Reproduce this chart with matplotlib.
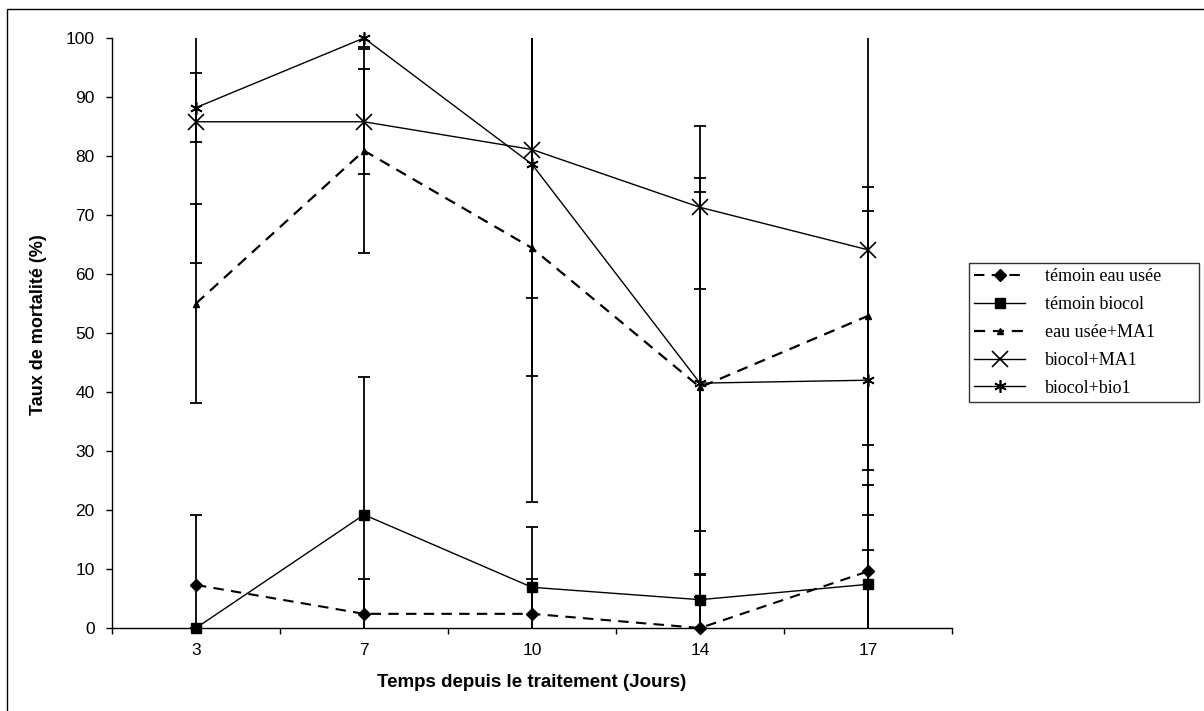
import matplotlib
matplotlib.use("Agg")
import matplotlib.pyplot as plt
from matplotlib.patches import Rectangle

# Données (taux de mortalité en %)
jours = ["3", "7", "10", "14", "17"]

temoin_eau_usee = [7.3, 2.4, 2.4, 0.0, 9.6]
temoin_biocol = [0.0, 19.2, 6.9, 4.8, 7.4]
eau_usee_ma1 = [55.0, 80.9, 64.4, 40.8, 52.9]
biocol_ma1 = [85.8, 85.8, 81.1, 71.3, 64.1]
biocol_bio1 = [88.2, 100.0, 78.6, 41.5, 42.0]

# Écarts-types (barres d'erreur)
err_temoin_eau_usee = [11.9, 5.9, 5.9, 8.9, 14.7]
err_temoin_biocol = [0.0, 23.3, 10.2, 11.6, 11.8]
err_eau_usee_ma1 = [16.9, 17.3, 43.0, 35.5, 21.9]
err_biocol_ma1 = [24.0, 8.9, 25.1, 13.8, 37.3]
err_biocol_bio1 = [5.9, 1.6, 35.9, 32.4, 28.7]

plt.rcParams["font.family"] = ["Liberation Sans", "DejaVu Sans"]

fig = plt.figure(figsize=(12.04, 7.11), dpi=100)
ax = fig.add_axes([112 / 1204, 1 - 628 / 711, 840 / 1204, 590 / 711])

x = list(range(len(jours)))

series = [
    (temoin_eau_usee, err_temoin_eau_usee, "témoin eau usée",
     dict(ls=(0, (5, 3.5)), lw=1.5, marker="D", ms=6.5)),
    (temoin_biocol, err_temoin_biocol, "témoin biocol",
     dict(ls="-", lw=1.0, marker="s", ms=7)),
    (eau_usee_ma1, err_eau_usee_ma1, "eau usée+MA1",
     dict(ls=(0, (5, 3.5)), lw=1.6, marker="^", ms=5)),
    (biocol_ma1, err_biocol_ma1, "biocol+MA1",
     dict(ls="-", lw=1.0, marker="x", ms=12, mew=1.2)),
    (biocol_bio1, err_biocol_bio1, "biocol+bio1",
     dict(ls="-", lw=1.0, marker=(6, 2, 0), ms=9, mew=1.2)),
]

for vals, errs, nom, style in series:
    ax.errorbar(x, vals, yerr=errs, fmt="none", ecolor="black",
                elinewidth=1.3, capsize=4.5, capthick=1.3, zorder=2)
    ax.plot(x, vals, color="black", mfc="black", mec="black",
            label=nom, clip_on=False, zorder=3, **style)

ax.set_ylim(0, 100)
ax.set_xlim(-0.5, len(jours) - 0.5)
ax.set_yticks(range(0, 101, 10))

# graduations aux limites des catégories, étiquettes au centre
ax.set_xticks([i - 0.5 for i in range(len(jours) + 1)])
ax.set_xticklabels([])
ax.set_xticks(x, minor=True)
ax.set_xticklabels(jours, minor=True)
ax.tick_params(axis="x", which="major", direction="out", length=4.5, width=1)
ax.tick_params(axis="x", which="minor", length=0, pad=11, labelsize=12.5)
ax.tick_params(axis="y", direction="out", length=4.5, width=1, pad=8, labelsize=12.5)

for cote in ["top", "right"]:
    ax.spines[cote].set_visible(False)
ax.spines["left"].set_linewidth(1.0)
ax.spines["bottom"].set_linewidth(1.0)

ax.set_xlabel("Temps depuis le traitement (Jours)", fontsize=13.5, fontweight="bold")
ax.set_ylabel("Taux de mortalité (%)", fontsize=13, fontweight="bold")
ax.xaxis.set_label_coords(0.5, -0.078)
ax.yaxis.set_label_coords(-0.077, 0.515)

leg = ax.legend(loc="upper left",
                bbox_to_anchor=(969 / 1204, 1 - 402 / 711, 230 / 1204, 139 / 711),
                bbox_transform=fig.transFigure, mode="expand",
                prop={"family": "Liberation Serif", "size": 13},
                frameon=True, fancybox=False, edgecolor="black", handlelength=2.8,
                handletextpad=1.1, labelspacing=0.6, borderpad=0.3, borderaxespad=0)
leg.get_frame().set_linewidth(1.0)

# cadre de la figure
fig.patches.append(Rectangle((7 / 1204, -0.05), 1.2, 1 - 9 / 711 + 0.05,
                             transform=fig.transFigure, fill=False,
                             edgecolor="black", lw=1.0))

fig.savefig("out.png", dpi=100)
